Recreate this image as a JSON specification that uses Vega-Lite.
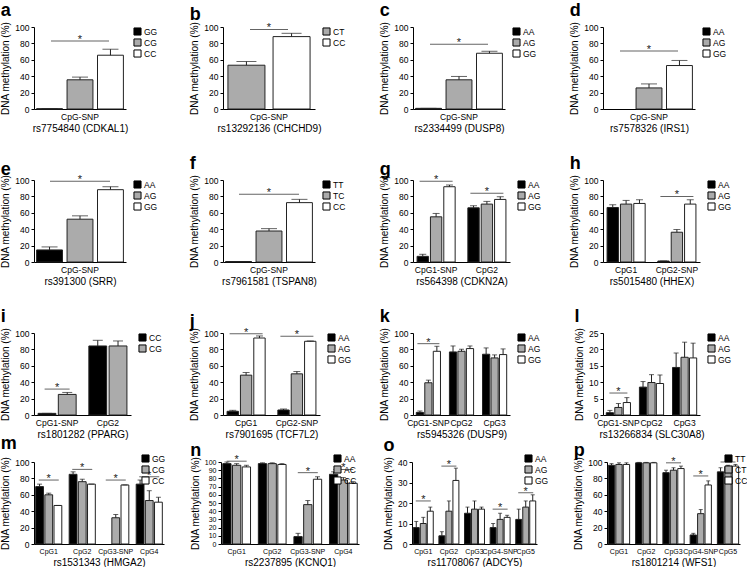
{
"$schema":"https://vega.github.io/schema/vega-lite/v6.json",
"padding":{"left":0,"top":1,"right":0,"bottom":0},
"datasets":{"d":[
{"p":"a","s":"CpG-SNP","g":"GG","v":0.3,"hi":0.3},{"p":"a","s":"CpG-SNP","g":"CG","v":35.6,"hi":38.9},{"p":"a","s":"CpG-SNP","g":"CC","v":65.6,"hi":72.9},{"p":"a","s":"CpG-SNP","sig":83},
{"p":"b","s":"CpG-SNP","g":"CT","v":53.4,"hi":57.9},{"p":"b","s":"CpG-SNP","g":"CC","v":88.3,"hi":92.3},{"p":"b","s":"CpG-SNP","sig":97},
{"p":"c","s":"CpG-SNP","g":"AA","v":0.8,"hi":0.8},{"p":"c","s":"CpG-SNP","g":"AG","v":35.6,"hi":39.7},{"p":"c","s":"CpG-SNP","g":"GG","v":68,"hi":70.4},{"p":"c","s":"CpG-SNP","sig":79},
{"p":"d","s":"CpG-SNP","g":"AG","v":25.7,"hi":30.6},{"p":"d","s":"CpG-SNP","g":"GG","v":53,"hi":59.2},{"p":"d","s":"CpG-SNP","sig":70.6},
{"p":"e","s":"CpG-SNP","g":"AA","v":14.7,"hi":18.4},{"p":"e","s":"CpG-SNP","g":"AG","v":52.2,"hi":56.3},{"p":"e","s":"CpG-SNP","g":"GG","v":88.2,"hi":91.8},{"p":"e","s":"CpG-SNP","sig":98.5},
{"p":"f","s":"CpG-SNP","g":"TT","v":0.6,"hi":0.6},{"p":"f","s":"CpG-SNP","g":"TC","v":37.8,"hi":40.7},{"p":"f","s":"CpG-SNP","g":"CC","v":72.4,"hi":76.4},{"p":"f","s":"CpG-SNP","sig":82.5},
{"p":"g","s":"CpG1-SNP","g":"AA","v":6.9,"hi":9.4},{"p":"g","s":"CpG1-SNP","g":"AG","v":55.1,"hi":59.2},{"p":"g","s":"CpG1-SNP","g":"GG","v":91.8,"hi":93.9},{"p":"g","s":"CpG1-SNP","sig":98.4},
{"p":"g","s":"CpG2","g":"AA","v":66.1,"hi":68.6},{"p":"g","s":"CpG2","g":"AG","v":70.6,"hi":73.9},{"p":"g","s":"CpG2","g":"GG","v":76.3,"hi":79.6},{"p":"g","s":"CpG2","sig":83.7},
{"p":"h","s":"CpG1","g":"AA","v":66.5,"hi":69.8},{"p":"h","s":"CpG1","g":"AG","v":70.6,"hi":75.1},{"p":"h","s":"CpG1","g":"GG","v":71.4,"hi":75.9},
{"p":"h","s":"CpG2-SNP","g":"AA","v":1.2,"hi":1.2},{"p":"h","s":"CpG2-SNP","g":"AG","v":36.3,"hi":39.6},{"p":"h","s":"CpG2-SNP","g":"GG","v":70.6,"hi":75.9},{"p":"h","s":"CpG2-SNP","sig":80},
{"p":"i","s":"CpG1-SNP","g":"CC","v":2,"hi":2},{"p":"i","s":"CpG1-SNP","g":"CG","v":25.1,"hi":27.5},{"p":"i","s":"CpG1-SNP","sig":31.6},
{"p":"i","s":"CpG2","g":"CC","v":84.2,"hi":91.1},{"p":"i","s":"CpG2","g":"CG","v":84.2,"hi":90.3},
{"p":"j","s":"CpG1","g":"AA","v":4.5,"hi":5.7},{"p":"j","s":"CpG1","g":"AG","v":48.6,"hi":51.8},{"p":"j","s":"CpG1","g":"GG","v":93.9,"hi":96.4},{"p":"j","s":"CpG1","sig":99.2},
{"p":"j","s":"CpG2-SNP","g":"AA","v":6.1,"hi":7.3},{"p":"j","s":"CpG2-SNP","g":"AG","v":50.2,"hi":53},{"p":"j","s":"CpG2-SNP","g":"GG","v":89.9,"hi":90.3},{"p":"j","s":"CpG2-SNP","sig":96},
{"p":"k","s":"CpG1-SNP","g":"AA","v":3.2,"hi":4.9},{"p":"k","s":"CpG1-SNP","g":"AG","v":39.3,"hi":42.5},{"p":"k","s":"CpG1-SNP","g":"GG","v":77.7,"hi":83.8},{"p":"k","s":"CpG1-SNP","sig":87},
{"p":"k","s":"CpG2","g":"AA","v":76.9,"hi":84.2},{"p":"k","s":"CpG2","g":"AG","v":77.7,"hi":80.2},{"p":"k","s":"CpG2","g":"GG","v":81,"hi":84.2},
{"p":"k","s":"CpG3","g":"AA","v":74.1,"hi":81.8},{"p":"k","s":"CpG3","g":"AG","v":69.6,"hi":73.3},{"p":"k","s":"CpG3","g":"GG","v":73.7,"hi":80.6},
{"p":"l","s":"CpG1-SNP","g":"AA","v":0.7,"hi":1.4},{"p":"l","s":"CpG1-SNP","g":"AG","v":2.3,"hi":3.5},{"p":"l","s":"CpG1-SNP","g":"GG","v":3.8,"hi":5.3},{"p":"l","s":"CpG1-SNP","sig":6.7},
{"p":"l","s":"CpG2","g":"AA","v":8.5,"hi":10.2},{"p":"l","s":"CpG2","g":"AG","v":9.9,"hi":12.3},{"p":"l","s":"CpG2","g":"GG","v":9.6,"hi":12.2},
{"p":"l","s":"CpG3","g":"AA","v":14.5,"hi":18.9},{"p":"l","s":"CpG3","g":"AG","v":17.6,"hi":22.2},{"p":"l","s":"CpG3","g":"GG","v":17.4,"hi":21.9},
{"p":"m","s":"CpG1","g":"GG","v":70,"hi":73},{"p":"m","s":"CpG1","g":"CG","v":60,"hi":62},{"p":"m","s":"CpG1","g":"CC","v":47,"hi":47},{"p":"m","s":"CpG1","sig":78},
{"p":"m","s":"CpG2","g":"GG","v":85,"hi":88},{"p":"m","s":"CpG2","g":"CG","v":76,"hi":79},{"p":"m","s":"CpG2","g":"CC","v":73,"hi":73},{"p":"m","s":"CpG2","sig":91},
{"p":"m","s":"CpG3-SNP","g":"CG","v":32,"hi":36},{"p":"m","s":"CpG3-SNP","g":"CC","v":72,"hi":72},{"p":"m","s":"CpG3-SNP","sig":78},
{"p":"m","s":"CpG4","g":"GG","v":73,"hi":78},{"p":"m","s":"CpG4","g":"CG","v":53,"hi":65},{"p":"m","s":"CpG4","g":"CC","v":51,"hi":57},{"p":"m","s":"CpG4","sig":82},
{"p":"n","s":"CpG1","g":"AA","v":98,"hi":100},{"p":"n","s":"CpG1","g":"AC","v":96,"hi":98},{"p":"n","s":"CpG1","g":"CC","v":94,"hi":96},{"p":"n","s":"CpG1","sig":101},
{"p":"n","s":"CpG2","g":"AA","v":98,"hi":99},{"p":"n","s":"CpG2","g":"AC","v":98,"hi":99},{"p":"n","s":"CpG2","g":"CC","v":97,"hi":98},
{"p":"n","s":"CpG3-SNP","g":"AA","v":9,"hi":13},{"p":"n","s":"CpG3-SNP","g":"AC","v":48,"hi":53},{"p":"n","s":"CpG3-SNP","g":"CC","v":79,"hi":82},{"p":"n","s":"CpG3-SNP","sig":87},
{"p":"n","s":"CpG4","g":"AA","v":85,"hi":88},{"p":"n","s":"CpG4","g":"AC","v":78,"hi":81},{"p":"n","s":"CpG4","g":"CC","v":74,"hi":76},{"p":"n","s":"CpG4","sig":91},
{"p":"o","s":"CpG1","g":"AA","v":8,"hi":11},{"p":"o","s":"CpG1","g":"AG","v":10,"hi":13},{"p":"o","s":"CpG1","g":"GG","v":16,"hi":18},{"p":"o","s":"CpG1","sig":21},
{"p":"o","s":"CpG2","g":"AA","v":4,"hi":6},{"p":"o","s":"CpG2","g":"AG","v":16,"hi":21},{"p":"o","s":"CpG2","g":"GG","v":31,"hi":37},{"p":"o","s":"CpG2","sig":38},
{"p":"o","s":"CpG3","g":"AA","v":15,"hi":18},{"p":"o","s":"CpG3","g":"AG","v":17,"hi":21},{"p":"o","s":"CpG3","g":"GG","v":17,"hi":18},
{"p":"o","s":"CpG4-SNP","g":"AA","v":8,"hi":10},{"p":"o","s":"CpG4-SNP","g":"AG","v":12,"hi":15},{"p":"o","s":"CpG4-SNP","g":"GG","v":13,"hi":14},{"p":"o","s":"CpG4-SNP","sig":17},
{"p":"o","s":"CpG5","g":"AA","v":12,"hi":17},{"p":"o","s":"CpG5","g":"AG","v":18,"hi":21},{"p":"o","s":"CpG5","g":"GG","v":21,"hi":24},{"p":"o","s":"CpG5","sig":25},
{"p":"p","s":"CpG1","g":"TT","v":96,"hi":98},{"p":"p","s":"CpG1","g":"CT","v":97,"hi":99},{"p":"p","s":"CpG1","g":"CC","v":97,"hi":99},
{"p":"p","s":"CpG2","g":"TT","v":99,"hi":99.5},{"p":"p","s":"CpG2","g":"CT","v":99,"hi":99.5},{"p":"p","s":"CpG2","g":"CC","v":99,"hi":99.5},
{"p":"p","s":"CpG3","g":"TT","v":87,"hi":90},{"p":"p","s":"CpG3","g":"CT","v":90,"hi":93},{"p":"p","s":"CpG3","g":"CC","v":92,"hi":95},{"p":"p","s":"CpG3","sig":99},
{"p":"p","s":"CpG4-SNP","g":"TT","v":11,"hi":13},{"p":"p","s":"CpG4-SNP","g":"CT","v":37,"hi":42},{"p":"p","s":"CpG4-SNP","g":"CC","v":72,"hi":77},{"p":"p","s":"CpG4-SNP","sig":83},
{"p":"p","s":"CpG5","g":"TT","v":88,"hi":93},{"p":"p","s":"CpG5","g":"CT","v":94,"hi":96},{"p":"p","s":"CpG5","g":"CC","v":95,"hi":97},{"p":"p","s":"CpG5","sig":100}
]},
"vconcat":[
{"columns":4,"spacing":{"row":20,"column":27},
"resolve":{"scale":{"color":"independent","xOffset":"independent","x":"independent","y":"independent"},"legend":{"color":"independent"}},
"concat":[
{"title":{"text":"a","offset":1.5},"width":92,"height":82,"data":{"name":"d"},"transform":[{"filter":"datum.p=='a'"}],
"encoding":{"x":{"field":"s","type":"nominal","title":"rs7754840 (CDKAL1)","scale":{"paddingInner":0,"paddingOuter":0.03}}},
"layer":[
{"transform":[{"filter":"isValid(datum.v)"}],"mark":"bar","encoding":{"xOffset":{"field":"g","type":"nominal","scale":{"domain":["GG","CG","CC"],"paddingInner":0.15}},"y":{"field":"v","type":"quantitative","title":"DNA methylation (%)","scale":{"domain":[0,100],"nice":false},"axis":{"values":[0,20,40,60,80,100]}},"color":{"field":"g","type":"nominal","scale":{"domain":["GG","CG","CC"],"range":["#000000","#ababab","#ffffff"]},"legend":{"title":null}}}},
{"transform":[{"filter":"isValid(datum.v)"}],"mark":"rule","encoding":{"xOffset":{"field":"g","type":"nominal","scale":{"domain":["GG","CG","CC"],"paddingInner":0.15}},"y":{"field":"v","type":"quantitative","title":"DNA methylation (%)","scale":{"domain":[0,100],"nice":false},"axis":{"values":[0,20,40,60,80,100]}},"y2":{"field":"hi"}}},
{"transform":[{"filter":"isValid(datum.v)"}],"mark":{"type":"tick","size":16},"encoding":{"xOffset":{"field":"g","type":"nominal","scale":{"domain":["GG","CG","CC"],"paddingInner":0.15}},"y":{"field":"hi","type":"quantitative","title":"DNA methylation (%)","scale":{"domain":[0,100],"nice":false},"axis":{"values":[0,20,40,60,80,100]}}}},
{"transform":[{"filter":"isValid(datum.sig)"}],"mark":{"type":"tick","size":58},"encoding":{"y":{"field":"sig","type":"quantitative","title":"DNA methylation (%)","scale":{"domain":[0,100],"nice":false},"axis":{"values":[0,20,40,60,80,100]}}}},
{"transform":[{"filter":"isValid(datum.sig)"}],"mark":{"type":"text","text":"*","baseline":"bottom","dy":4,"fontSize":11},"encoding":{"y":{"field":"sig","type":"quantitative","title":"DNA methylation (%)","scale":{"domain":[0,100],"nice":false},"axis":{"values":[0,20,40,60,80,100]}}}}
]},
{"title":{"text":"b","offset":-3},"width":92,"height":82,"data":{"name":"d"},"transform":[{"filter":"datum.p=='b'"}],
"encoding":{"x":{"field":"s","type":"nominal","title":"rs13292136 (CHCHD9)","scale":{"paddingInner":0,"paddingOuter":0.06}}},
"layer":[
{"transform":[{"filter":"isValid(datum.v)"}],"mark":"bar","encoding":{"xOffset":{"field":"g","type":"nominal","scale":{"domain":["CT","CC"],"paddingInner":0.18}},"y":{"field":"v","type":"quantitative","title":"DNA methylation (%)","scale":{"domain":[0,100],"nice":false},"axis":{"values":[0,20,40,60,80,100]}},"color":{"field":"g","type":"nominal","scale":{"domain":["CT","CC"],"range":["#ababab","#ffffff"]},"legend":{"title":null}}}},
{"transform":[{"filter":"isValid(datum.v)"}],"mark":"rule","encoding":{"xOffset":{"field":"g","type":"nominal","scale":{"domain":["CT","CC"],"paddingInner":0.18}},"y":{"field":"v","type":"quantitative","title":"DNA methylation (%)","scale":{"domain":[0,100],"nice":false},"axis":{"values":[0,20,40,60,80,100]}},"y2":{"field":"hi"}}},
{"transform":[{"filter":"isValid(datum.v)"}],"mark":{"type":"tick","size":20},"encoding":{"xOffset":{"field":"g","type":"nominal","scale":{"domain":["CT","CC"],"paddingInner":0.18}},"y":{"field":"hi","type":"quantitative","title":"DNA methylation (%)","scale":{"domain":[0,100],"nice":false},"axis":{"values":[0,20,40,60,80,100]}}}},
{"transform":[{"filter":"isValid(datum.sig)"}],"mark":{"type":"tick","size":38},"encoding":{"y":{"field":"sig","type":"quantitative","title":"DNA methylation (%)","scale":{"domain":[0,100],"nice":false},"axis":{"values":[0,20,40,60,80,100]}}}},
{"transform":[{"filter":"isValid(datum.sig)"}],"mark":{"type":"text","text":"*","baseline":"bottom","dy":4,"fontSize":11},"encoding":{"y":{"field":"sig","type":"quantitative","title":"DNA methylation (%)","scale":{"domain":[0,100],"nice":false},"axis":{"values":[0,20,40,60,80,100]}}}}
]},
{"title":{"text":"c","offset":1.5},"width":92,"height":82,"data":{"name":"d"},"transform":[{"filter":"datum.p=='c'"}],
"encoding":{"x":{"field":"s","type":"nominal","title":"rs2334499 (DUSP8)","scale":{"paddingInner":0,"paddingOuter":0.03}}},
"layer":[
{"transform":[{"filter":"isValid(datum.v)"}],"mark":"bar","encoding":{"xOffset":{"field":"g","type":"nominal","scale":{"domain":["AA","AG","GG"],"paddingInner":0.15}},"y":{"field":"v","type":"quantitative","title":"DNA methylation (%)","scale":{"domain":[0,100],"nice":false},"axis":{"values":[0,20,40,60,80,100]}},"color":{"field":"g","type":"nominal","scale":{"domain":["AA","AG","GG"],"range":["#000000","#ababab","#ffffff"]},"legend":{"title":null}}}},
{"transform":[{"filter":"isValid(datum.v)"}],"mark":"rule","encoding":{"xOffset":{"field":"g","type":"nominal","scale":{"domain":["AA","AG","GG"],"paddingInner":0.15}},"y":{"field":"v","type":"quantitative","title":"DNA methylation (%)","scale":{"domain":[0,100],"nice":false},"axis":{"values":[0,20,40,60,80,100]}},"y2":{"field":"hi"}}},
{"transform":[{"filter":"isValid(datum.v)"}],"mark":{"type":"tick","size":16},"encoding":{"xOffset":{"field":"g","type":"nominal","scale":{"domain":["AA","AG","GG"],"paddingInner":0.15}},"y":{"field":"hi","type":"quantitative","title":"DNA methylation (%)","scale":{"domain":[0,100],"nice":false},"axis":{"values":[0,20,40,60,80,100]}}}},
{"transform":[{"filter":"isValid(datum.sig)"}],"mark":{"type":"tick","size":58},"encoding":{"y":{"field":"sig","type":"quantitative","title":"DNA methylation (%)","scale":{"domain":[0,100],"nice":false},"axis":{"values":[0,20,40,60,80,100]}}}},
{"transform":[{"filter":"isValid(datum.sig)"}],"mark":{"type":"text","text":"*","baseline":"bottom","dy":4,"fontSize":11},"encoding":{"y":{"field":"sig","type":"quantitative","title":"DNA methylation (%)","scale":{"domain":[0,100],"nice":false},"axis":{"values":[0,20,40,60,80,100]}}}}
]},
{"title":{"text":"d","offset":1.5},"width":92,"height":82,"data":{"name":"d"},"transform":[{"filter":"datum.p=='d'"}],
"encoding":{"x":{"field":"s","type":"nominal","title":"rs7578326 (IRS1)","scale":{"paddingInner":0,"paddingOuter":0.03}}},
"layer":[
{"transform":[{"filter":"isValid(datum.v)"}],"mark":"bar","encoding":{"xOffset":{"field":"g","type":"nominal","scale":{"domain":["AA","AG","GG"],"paddingInner":0.15}},"y":{"field":"v","type":"quantitative","title":"DNA methylation (%)","scale":{"domain":[0,100],"nice":false},"axis":{"values":[0,20,40,60,80,100]}},"color":{"field":"g","type":"nominal","scale":{"domain":["AA","AG","GG"],"range":["#000000","#ababab","#ffffff"]},"legend":{"title":null}}}},
{"transform":[{"filter":"isValid(datum.v)"}],"mark":"rule","encoding":{"xOffset":{"field":"g","type":"nominal","scale":{"domain":["AA","AG","GG"],"paddingInner":0.15}},"y":{"field":"v","type":"quantitative","title":"DNA methylation (%)","scale":{"domain":[0,100],"nice":false},"axis":{"values":[0,20,40,60,80,100]}},"y2":{"field":"hi"}}},
{"transform":[{"filter":"isValid(datum.v)"}],"mark":{"type":"tick","size":16},"encoding":{"xOffset":{"field":"g","type":"nominal","scale":{"domain":["AA","AG","GG"],"paddingInner":0.15}},"y":{"field":"hi","type":"quantitative","title":"DNA methylation (%)","scale":{"domain":[0,100],"nice":false},"axis":{"values":[0,20,40,60,80,100]}}}},
{"transform":[{"filter":"isValid(datum.sig)"}],"mark":{"type":"tick","size":58},"encoding":{"y":{"field":"sig","type":"quantitative","title":"DNA methylation (%)","scale":{"domain":[0,100],"nice":false},"axis":{"values":[0,20,40,60,80,100]}}}},
{"transform":[{"filter":"isValid(datum.sig)"}],"mark":{"type":"text","text":"*","baseline":"bottom","dy":4,"fontSize":11},"encoding":{"y":{"field":"sig","type":"quantitative","title":"DNA methylation (%)","scale":{"domain":[0,100],"nice":false},"axis":{"values":[0,20,40,60,80,100]}}}}
]},
{"title":{"text":"e","offset":-4.3},"width":92,"height":82,"data":{"name":"d"},"transform":[{"filter":"datum.p=='e'"}],
"encoding":{"x":{"field":"s","type":"nominal","title":"rs391300 (SRR)","scale":{"paddingInner":0,"paddingOuter":0.03}}},
"layer":[
{"transform":[{"filter":"isValid(datum.v)"}],"mark":"bar","encoding":{"xOffset":{"field":"g","type":"nominal","scale":{"domain":["AA","AG","GG"],"paddingInner":0.15}},"y":{"field":"v","type":"quantitative","title":"DNA methylation (%)","scale":{"domain":[0,100],"nice":false},"axis":{"values":[0,20,40,60,80,100]}},"color":{"field":"g","type":"nominal","scale":{"domain":["AA","AG","GG"],"range":["#000000","#ababab","#ffffff"]},"legend":{"title":null}}}},
{"transform":[{"filter":"isValid(datum.v)"}],"mark":"rule","encoding":{"xOffset":{"field":"g","type":"nominal","scale":{"domain":["AA","AG","GG"],"paddingInner":0.15}},"y":{"field":"v","type":"quantitative","title":"DNA methylation (%)","scale":{"domain":[0,100],"nice":false},"axis":{"values":[0,20,40,60,80,100]}},"y2":{"field":"hi"}}},
{"transform":[{"filter":"isValid(datum.v)"}],"mark":{"type":"tick","size":16},"encoding":{"xOffset":{"field":"g","type":"nominal","scale":{"domain":["AA","AG","GG"],"paddingInner":0.15}},"y":{"field":"hi","type":"quantitative","title":"DNA methylation (%)","scale":{"domain":[0,100],"nice":false},"axis":{"values":[0,20,40,60,80,100]}}}},
{"transform":[{"filter":"isValid(datum.sig)"}],"mark":{"type":"tick","size":60},"encoding":{"y":{"field":"sig","type":"quantitative","title":"DNA methylation (%)","scale":{"domain":[0,100],"nice":false},"axis":{"values":[0,20,40,60,80,100]}}}},
{"transform":[{"filter":"isValid(datum.sig)"}],"mark":{"type":"text","text":"*","baseline":"bottom","dy":4,"fontSize":11},"encoding":{"y":{"field":"sig","type":"quantitative","title":"DNA methylation (%)","scale":{"domain":[0,100],"nice":false},"axis":{"values":[0,20,40,60,80,100]}}}}
]},
{"title":{"text":"f","offset":1.5},"width":92,"height":82,"data":{"name":"d"},"transform":[{"filter":"datum.p=='f'"}],
"encoding":{"x":{"field":"s","type":"nominal","title":"rs7961581 (TSPAN8)","scale":{"paddingInner":0,"paddingOuter":0.03}}},
"layer":[
{"transform":[{"filter":"isValid(datum.v)"}],"mark":"bar","encoding":{"xOffset":{"field":"g","type":"nominal","scale":{"domain":["TT","TC","CC"],"paddingInner":0.15}},"y":{"field":"v","type":"quantitative","title":"DNA methylation (%)","scale":{"domain":[0,100],"nice":false},"axis":{"values":[0,20,40,60,80,100]}},"color":{"field":"g","type":"nominal","scale":{"domain":["TT","TC","CC"],"range":["#000000","#ababab","#ffffff"]},"legend":{"title":null}}}},
{"transform":[{"filter":"isValid(datum.v)"}],"mark":"rule","encoding":{"xOffset":{"field":"g","type":"nominal","scale":{"domain":["TT","TC","CC"],"paddingInner":0.15}},"y":{"field":"v","type":"quantitative","title":"DNA methylation (%)","scale":{"domain":[0,100],"nice":false},"axis":{"values":[0,20,40,60,80,100]}},"y2":{"field":"hi"}}},
{"transform":[{"filter":"isValid(datum.v)"}],"mark":{"type":"tick","size":16},"encoding":{"xOffset":{"field":"g","type":"nominal","scale":{"domain":["TT","TC","CC"],"paddingInner":0.15}},"y":{"field":"hi","type":"quantitative","title":"DNA methylation (%)","scale":{"domain":[0,100],"nice":false},"axis":{"values":[0,20,40,60,80,100]}}}},
{"transform":[{"filter":"isValid(datum.sig)"}],"mark":{"type":"tick","size":60},"encoding":{"y":{"field":"sig","type":"quantitative","title":"DNA methylation (%)","scale":{"domain":[0,100],"nice":false},"axis":{"values":[0,20,40,60,80,100]}}}},
{"transform":[{"filter":"isValid(datum.sig)"}],"mark":{"type":"text","text":"*","baseline":"bottom","dy":4,"fontSize":11},"encoding":{"y":{"field":"sig","type":"quantitative","title":"DNA methylation (%)","scale":{"domain":[0,100],"nice":false},"axis":{"values":[0,20,40,60,80,100]}}}}
]},
{"title":{"text":"g","offset":-4.2},"width":97,"height":82,"data":{"name":"d"},"transform":[{"filter":"datum.p=='g'"}],
"encoding":{"x":{"field":"s","type":"nominal","title":"rs564398 (CDKN2A)","scale":{"paddingInner":0.25,"paddingOuter":0.08}}},
"layer":[
{"transform":[{"filter":"isValid(datum.v)"}],"mark":"bar","encoding":{"xOffset":{"field":"g","type":"nominal","scale":{"domain":["AA","AG","GG"],"paddingInner":0.15}},"y":{"field":"v","type":"quantitative","title":"DNA methylation (%)","scale":{"domain":[0,100],"nice":false},"axis":{"values":[0,20,40,60,80,100]}},"color":{"field":"g","type":"nominal","scale":{"domain":["AA","AG","GG"],"range":["#000000","#ababab","#ffffff"]},"legend":{"title":null}}}},
{"transform":[{"filter":"isValid(datum.v)"}],"mark":"rule","encoding":{"xOffset":{"field":"g","type":"nominal","scale":{"domain":["AA","AG","GG"],"paddingInner":0.15}},"y":{"field":"v","type":"quantitative","title":"DNA methylation (%)","scale":{"domain":[0,100],"nice":false},"axis":{"values":[0,20,40,60,80,100]}},"y2":{"field":"hi"}}},
{"transform":[{"filter":"isValid(datum.v)"}],"mark":{"type":"tick","size":7},"encoding":{"xOffset":{"field":"g","type":"nominal","scale":{"domain":["AA","AG","GG"],"paddingInner":0.15}},"y":{"field":"hi","type":"quantitative","title":"DNA methylation (%)","scale":{"domain":[0,100],"nice":false},"axis":{"values":[0,20,40,60,80,100]}}}},
{"transform":[{"filter":"isValid(datum.sig)"}],"mark":{"type":"tick","size":33},"encoding":{"y":{"field":"sig","type":"quantitative","title":"DNA methylation (%)","scale":{"domain":[0,100],"nice":false},"axis":{"values":[0,20,40,60,80,100]}}}},
{"transform":[{"filter":"isValid(datum.sig)"}],"mark":{"type":"text","text":"*","baseline":"bottom","dy":4,"fontSize":11},"encoding":{"y":{"field":"sig","type":"quantitative","title":"DNA methylation (%)","scale":{"domain":[0,100],"nice":false},"axis":{"values":[0,20,40,60,80,100]}}}}
]},
{"title":{"text":"h","offset":1.5},"width":97,"height":82,"data":{"name":"d"},"transform":[{"filter":"datum.p=='h'"}],
"encoding":{"x":{"field":"s","type":"nominal","title":"rs5015480 (HHEX)","scale":{"paddingInner":0.25,"paddingOuter":0.08}}},
"layer":[
{"transform":[{"filter":"isValid(datum.v)"}],"mark":"bar","encoding":{"xOffset":{"field":"g","type":"nominal","scale":{"domain":["AA","AG","GG"],"paddingInner":0.15}},"y":{"field":"v","type":"quantitative","title":"DNA methylation (%)","scale":{"domain":[0,100],"nice":false},"axis":{"values":[0,20,40,60,80,100]}},"color":{"field":"g","type":"nominal","scale":{"domain":["AA","AG","GG"],"range":["#000000","#ababab","#ffffff"]},"legend":{"title":null}}}},
{"transform":[{"filter":"isValid(datum.v)"}],"mark":"rule","encoding":{"xOffset":{"field":"g","type":"nominal","scale":{"domain":["AA","AG","GG"],"paddingInner":0.15}},"y":{"field":"v","type":"quantitative","title":"DNA methylation (%)","scale":{"domain":[0,100],"nice":false},"axis":{"values":[0,20,40,60,80,100]}},"y2":{"field":"hi"}}},
{"transform":[{"filter":"isValid(datum.v)"}],"mark":{"type":"tick","size":7},"encoding":{"xOffset":{"field":"g","type":"nominal","scale":{"domain":["AA","AG","GG"],"paddingInner":0.15}},"y":{"field":"hi","type":"quantitative","title":"DNA methylation (%)","scale":{"domain":[0,100],"nice":false},"axis":{"values":[0,20,40,60,80,100]}}}},
{"transform":[{"filter":"isValid(datum.sig)"}],"mark":{"type":"tick","size":33},"encoding":{"y":{"field":"sig","type":"quantitative","title":"DNA methylation (%)","scale":{"domain":[0,100],"nice":false},"axis":{"values":[0,20,40,60,80,100]}}}},
{"transform":[{"filter":"isValid(datum.sig)"}],"mark":{"type":"text","text":"*","baseline":"bottom","dy":4,"fontSize":11},"encoding":{"y":{"field":"sig","type":"quantitative","title":"DNA methylation (%)","scale":{"domain":[0,100],"nice":false},"axis":{"values":[0,20,40,60,80,100]}}}}
]},
{"title":{"text":"i","offset":1.5},"width":97,"height":82,"data":{"name":"d"},"transform":[{"filter":"datum.p=='i'"}],
"encoding":{"x":{"field":"s","type":"nominal","title":"rs1801282 (PPARG)","scale":{"paddingInner":0.25,"paddingOuter":0.08}}},
"layer":[
{"transform":[{"filter":"isValid(datum.v)"}],"mark":"bar","encoding":{"xOffset":{"field":"g","type":"nominal","scale":{"domain":["CC","CG"],"paddingInner":0.12}},"y":{"field":"v","type":"quantitative","title":"DNA methylation (%)","scale":{"domain":[0,100],"nice":false},"axis":{"values":[0,20,40,60,80,100]}},"color":{"field":"g","type":"nominal","scale":{"domain":["CC","CG"],"range":["#000000","#ababab"]},"legend":{"title":null}}}},
{"transform":[{"filter":"isValid(datum.v)"}],"mark":"rule","encoding":{"xOffset":{"field":"g","type":"nominal","scale":{"domain":["CC","CG"],"paddingInner":0.12}},"y":{"field":"v","type":"quantitative","title":"DNA methylation (%)","scale":{"domain":[0,100],"nice":false},"axis":{"values":[0,20,40,60,80,100]}},"y2":{"field":"hi"}}},
{"transform":[{"filter":"isValid(datum.v)"}],"mark":{"type":"tick","size":10},"encoding":{"xOffset":{"field":"g","type":"nominal","scale":{"domain":["CC","CG"],"paddingInner":0.12}},"y":{"field":"hi","type":"quantitative","title":"DNA methylation (%)","scale":{"domain":[0,100],"nice":false},"axis":{"values":[0,20,40,60,80,100]}}}},
{"transform":[{"filter":"isValid(datum.sig)"}],"mark":{"type":"tick","size":25},"encoding":{"y":{"field":"sig","type":"quantitative","title":"DNA methylation (%)","scale":{"domain":[0,100],"nice":false},"axis":{"values":[0,20,40,60,80,100]}}}},
{"transform":[{"filter":"isValid(datum.sig)"}],"mark":{"type":"text","text":"*","baseline":"bottom","dy":4,"fontSize":11},"encoding":{"y":{"field":"sig","type":"quantitative","title":"DNA methylation (%)","scale":{"domain":[0,100],"nice":false},"axis":{"values":[0,20,40,60,80,100]}}}}
]},
{"title":{"text":"j","offset":-4.8},"width":97,"height":82,"data":{"name":"d"},"transform":[{"filter":"datum.p=='j'"}],
"encoding":{"x":{"field":"s","type":"nominal","title":"rs7901695 (TCF7L2)","scale":{"paddingInner":0.25,"paddingOuter":0.08}}},
"layer":[
{"transform":[{"filter":"isValid(datum.v)"}],"mark":"bar","encoding":{"xOffset":{"field":"g","type":"nominal","scale":{"domain":["AA","AG","GG"],"paddingInner":0.15}},"y":{"field":"v","type":"quantitative","title":"DNA methylation (%)","scale":{"domain":[0,100],"nice":false},"axis":{"values":[0,20,40,60,80,100]}},"color":{"field":"g","type":"nominal","scale":{"domain":["AA","AG","GG"],"range":["#000000","#ababab","#ffffff"]},"legend":{"title":null}}}},
{"transform":[{"filter":"isValid(datum.v)"}],"mark":"rule","encoding":{"xOffset":{"field":"g","type":"nominal","scale":{"domain":["AA","AG","GG"],"paddingInner":0.15}},"y":{"field":"v","type":"quantitative","title":"DNA methylation (%)","scale":{"domain":[0,100],"nice":false},"axis":{"values":[0,20,40,60,80,100]}},"y2":{"field":"hi"}}},
{"transform":[{"filter":"isValid(datum.v)"}],"mark":{"type":"tick","size":7},"encoding":{"xOffset":{"field":"g","type":"nominal","scale":{"domain":["AA","AG","GG"],"paddingInner":0.15}},"y":{"field":"hi","type":"quantitative","title":"DNA methylation (%)","scale":{"domain":[0,100],"nice":false},"axis":{"values":[0,20,40,60,80,100]}}}},
{"transform":[{"filter":"isValid(datum.sig)"}],"mark":{"type":"tick","size":33},"encoding":{"y":{"field":"sig","type":"quantitative","title":"DNA methylation (%)","scale":{"domain":[0,100],"nice":false},"axis":{"values":[0,20,40,60,80,100]}}}},
{"transform":[{"filter":"isValid(datum.sig)"}],"mark":{"type":"text","text":"*","baseline":"bottom","dy":4,"fontSize":11},"encoding":{"y":{"field":"sig","type":"quantitative","title":"DNA methylation (%)","scale":{"domain":[0,100],"nice":false},"axis":{"values":[0,20,40,60,80,100]}}}}
]},
{"title":{"text":"k","offset":1.5},"width":97,"height":82,"data":{"name":"d"},"transform":[{"filter":"datum.p=='k'"}],
"encoding":{"x":{"field":"s","type":"nominal","title":"rs5945326 (DUSP9)","scale":{"paddingInner":0.27,"paddingOuter":0.1}}},
"layer":[
{"transform":[{"filter":"isValid(datum.v)"}],"mark":"bar","encoding":{"xOffset":{"field":"g","type":"nominal","scale":{"domain":["AA","AG","GG"],"paddingInner":0.15}},"y":{"field":"v","type":"quantitative","title":"DNA methylation (%)","scale":{"domain":[0,100],"nice":false},"axis":{"values":[0,20,40,60,80,100]}},"color":{"field":"g","type":"nominal","scale":{"domain":["AA","AG","GG"],"range":["#000000","#ababab","#ffffff"]},"legend":{"title":null}}}},
{"transform":[{"filter":"isValid(datum.v)"}],"mark":"rule","encoding":{"xOffset":{"field":"g","type":"nominal","scale":{"domain":["AA","AG","GG"],"paddingInner":0.15}},"y":{"field":"v","type":"quantitative","title":"DNA methylation (%)","scale":{"domain":[0,100],"nice":false},"axis":{"values":[0,20,40,60,80,100]}},"y2":{"field":"hi"}}},
{"transform":[{"filter":"isValid(datum.v)"}],"mark":{"type":"tick","size":5},"encoding":{"xOffset":{"field":"g","type":"nominal","scale":{"domain":["AA","AG","GG"],"paddingInner":0.15}},"y":{"field":"hi","type":"quantitative","title":"DNA methylation (%)","scale":{"domain":[0,100],"nice":false},"axis":{"values":[0,20,40,60,80,100]}}}},
{"transform":[{"filter":"isValid(datum.sig)"}],"mark":{"type":"tick","size":22},"encoding":{"y":{"field":"sig","type":"quantitative","title":"DNA methylation (%)","scale":{"domain":[0,100],"nice":false},"axis":{"values":[0,20,40,60,80,100]}}}},
{"transform":[{"filter":"isValid(datum.sig)"}],"mark":{"type":"text","text":"*","baseline":"bottom","dy":4,"fontSize":11},"encoding":{"y":{"field":"sig","type":"quantitative","title":"DNA methylation (%)","scale":{"domain":[0,100],"nice":false},"axis":{"values":[0,20,40,60,80,100]}}}}
]},
{"title":{"text":"l","offset":1.5},"width":97,"height":82,"data":{"name":"d"},"transform":[{"filter":"datum.p=='l'"}],
"encoding":{"x":{"field":"s","type":"nominal","title":"rs13266834 (SLC30A8)","scale":{"paddingInner":0.27,"paddingOuter":0.1}}},
"layer":[
{"transform":[{"filter":"isValid(datum.v)"}],"mark":"bar","encoding":{"xOffset":{"field":"g","type":"nominal","scale":{"domain":["AA","AG","GG"],"paddingInner":0.15}},"y":{"field":"v","type":"quantitative","title":"DNA methylation (%)","scale":{"domain":[0,25],"nice":false},"axis":{"values":[0,5,10,15,20,25]}},"color":{"field":"g","type":"nominal","scale":{"domain":["AA","AG","GG"],"range":["#000000","#ababab","#ffffff"]},"legend":{"title":null}}}},
{"transform":[{"filter":"isValid(datum.v)"}],"mark":"rule","encoding":{"xOffset":{"field":"g","type":"nominal","scale":{"domain":["AA","AG","GG"],"paddingInner":0.15}},"y":{"field":"v","type":"quantitative","title":"DNA methylation (%)","scale":{"domain":[0,25],"nice":false},"axis":{"values":[0,5,10,15,20,25]}},"y2":{"field":"hi"}}},
{"transform":[{"filter":"isValid(datum.v)"}],"mark":{"type":"tick","size":5},"encoding":{"xOffset":{"field":"g","type":"nominal","scale":{"domain":["AA","AG","GG"],"paddingInner":0.15}},"y":{"field":"hi","type":"quantitative","title":"DNA methylation (%)","scale":{"domain":[0,25],"nice":false},"axis":{"values":[0,5,10,15,20,25]}}}},
{"transform":[{"filter":"isValid(datum.sig)"}],"mark":{"type":"tick","size":18},"encoding":{"y":{"field":"sig","type":"quantitative","title":"DNA methylation (%)","scale":{"domain":[0,25],"nice":false},"axis":{"values":[0,5,10,15,20,25]}}}},
{"transform":[{"filter":"isValid(datum.sig)"}],"mark":{"type":"text","text":"*","baseline":"bottom","dy":4,"fontSize":11},"encoding":{"y":{"field":"sig","type":"quantitative","title":"DNA methylation (%)","scale":{"domain":[0,25],"nice":false},"axis":{"values":[0,5,10,15,20,25]}}}}
]}
]},
{"columns":4,"spacing":{"column":24},
"resolve":{"scale":{"color":"independent","xOffset":"independent","x":"independent","y":"independent"},"legend":{"color":"independent"}},
"concat":[
{"title":{"text":"m","offset":1.5},"width":130,"height":82,"data":{"name":"d"},"transform":[{"filter":"datum.p=='m'"}],
"encoding":{"x":{"field":"s","type":"nominal","title":"rs1531343 (HMGA2)","axis":{"labelFontSize":7},"scale":{"paddingInner":0.22,"paddingOuter":0.05}}},
"layer":[
{"transform":[{"filter":"isValid(datum.v)"}],"mark":"bar","encoding":{"xOffset":{"field":"g","type":"nominal","scale":{"domain":["GG","CG","CC"],"paddingInner":0.15}},"y":{"field":"v","type":"quantitative","title":"DNA methylation (%)","scale":{"domain":[0,100],"nice":false},"axis":{"values":[0,20,40,60,80,100]}},"color":{"field":"g","type":"nominal","scale":{"domain":["GG","CG","CC"],"range":["#000000","#ababab","#ffffff"]},"legend":{"title":null,"orient":"none","legendX":107,"legendY":-8}}}},
{"transform":[{"filter":"isValid(datum.v)"}],"mark":"rule","encoding":{"xOffset":{"field":"g","type":"nominal","scale":{"domain":["GG","CG","CC"],"paddingInner":0.15}},"y":{"field":"v","type":"quantitative","title":"DNA methylation (%)","scale":{"domain":[0,100],"nice":false},"axis":{"values":[0,20,40,60,80,100]}},"y2":{"field":"hi"}}},
{"transform":[{"filter":"isValid(datum.v)"}],"mark":{"type":"tick","size":5},"encoding":{"xOffset":{"field":"g","type":"nominal","scale":{"domain":["GG","CG","CC"],"paddingInner":0.15}},"y":{"field":"hi","type":"quantitative","title":"DNA methylation (%)","scale":{"domain":[0,100],"nice":false},"axis":{"values":[0,20,40,60,80,100]}}}},
{"transform":[{"filter":"isValid(datum.sig)"}],"mark":{"type":"tick","size":20},"encoding":{"y":{"field":"sig","type":"quantitative","title":"DNA methylation (%)","scale":{"domain":[0,100],"nice":false},"axis":{"values":[0,20,40,60,80,100]}}}},
{"transform":[{"filter":"isValid(datum.sig)"}],"mark":{"type":"text","text":"*","baseline":"bottom","dy":4,"fontSize":11},"encoding":{"y":{"field":"sig","type":"quantitative","title":"DNA methylation (%)","scale":{"domain":[0,100],"nice":false},"axis":{"values":[0,20,40,60,80,100]}}}}
]},
{"title":{"text":"n","offset":-6.3},"width":138,"height":82,"data":{"name":"d"},"transform":[{"filter":"datum.p=='n'"}],
"encoding":{"x":{"field":"s","type":"nominal","title":"rs2237895 (KCNQ1)","axis":{"labelFontSize":7},"scale":{"paddingInner":0.22,"paddingOuter":0.05}}},
"layer":[
{"transform":[{"filter":"isValid(datum.v)"}],"mark":"bar","encoding":{"xOffset":{"field":"g","type":"nominal","scale":{"domain":["AA","AC","CC"],"paddingInner":0.15}},"y":{"field":"v","type":"quantitative","title":"DNA methylation (%)","scale":{"domain":[0,100],"nice":false},"axis":{"values":[0,10,20,30,40,50,60,70,80,90,100],"labelFontSize":7}},"color":{"field":"g","type":"nominal","scale":{"domain":["AA","AC","CC"],"range":["#000000","#ababab","#ffffff"]},"legend":{"title":null,"orient":"none","legendX":112,"legendY":-8}}}},
{"transform":[{"filter":"isValid(datum.v)"}],"mark":"rule","encoding":{"xOffset":{"field":"g","type":"nominal","scale":{"domain":["AA","AC","CC"],"paddingInner":0.15}},"y":{"field":"v","type":"quantitative","title":"DNA methylation (%)","scale":{"domain":[0,100],"nice":false},"axis":{"values":[0,10,20,30,40,50,60,70,80,90,100],"labelFontSize":7}},"y2":{"field":"hi"}}},
{"transform":[{"filter":"isValid(datum.v)"}],"mark":{"type":"tick","size":5},"encoding":{"xOffset":{"field":"g","type":"nominal","scale":{"domain":["AA","AC","CC"],"paddingInner":0.15}},"y":{"field":"hi","type":"quantitative","title":"DNA methylation (%)","scale":{"domain":[0,100],"nice":false},"axis":{"values":[0,10,20,30,40,50,60,70,80,90,100],"labelFontSize":7}}}},
{"transform":[{"filter":"isValid(datum.sig)"}],"mark":{"type":"tick","size":20},"encoding":{"y":{"field":"sig","type":"quantitative","title":"DNA methylation (%)","scale":{"domain":[0,100],"nice":false},"axis":{"values":[0,10,20,30,40,50,60,70,80,90,100],"labelFontSize":7}}}},
{"transform":[{"filter":"isValid(datum.sig)"}],"mark":{"type":"text","text":"*","baseline":"bottom","dy":4,"fontSize":11},"encoding":{"y":{"field":"sig","type":"quantitative","title":"DNA methylation (%)","scale":{"domain":[0,100],"nice":false},"axis":{"values":[0,10,20,30,40,50,60,70,80,90,100],"labelFontSize":7}}}}
]},
{"title":{"text":"o","offset":-1.4},"width":125,"height":82,"data":{"name":"d"},"transform":[{"filter":"datum.p=='o'"}],
"encoding":{"x":{"field":"s","type":"nominal","title":"rs11708067 (ADCY5)","axis":{"labelFontSize":7},"scale":{"paddingInner":0.22,"paddingOuter":0.05}}},
"layer":[
{"transform":[{"filter":"isValid(datum.v)"}],"mark":"bar","encoding":{"xOffset":{"field":"g","type":"nominal","scale":{"domain":["AA","AG","GG"],"paddingInner":0.15}},"y":{"field":"v","type":"quantitative","title":"DNA methylation (%)","scale":{"domain":[0,40],"nice":false},"axis":{"values":[0,10,20,30,40]}},"color":{"field":"g","type":"nominal","scale":{"domain":["AA","AG","GG"],"range":["#000000","#ababab","#ffffff"]},"legend":{"title":null,"orient":"none","legendX":112,"legendY":-8}}}},
{"transform":[{"filter":"isValid(datum.v)"}],"mark":"rule","encoding":{"xOffset":{"field":"g","type":"nominal","scale":{"domain":["AA","AG","GG"],"paddingInner":0.15}},"y":{"field":"v","type":"quantitative","title":"DNA methylation (%)","scale":{"domain":[0,40],"nice":false},"axis":{"values":[0,10,20,30,40]}},"y2":{"field":"hi"}}},
{"transform":[{"filter":"isValid(datum.v)"}],"mark":{"type":"tick","size":4},"encoding":{"xOffset":{"field":"g","type":"nominal","scale":{"domain":["AA","AG","GG"],"paddingInner":0.15}},"y":{"field":"hi","type":"quantitative","title":"DNA methylation (%)","scale":{"domain":[0,40],"nice":false},"axis":{"values":[0,10,20,30,40]}}}},
{"transform":[{"filter":"isValid(datum.sig)"}],"mark":{"type":"tick","size":15},"encoding":{"y":{"field":"sig","type":"quantitative","title":"DNA methylation (%)","scale":{"domain":[0,40],"nice":false},"axis":{"values":[0,10,20,30,40]}}}},
{"transform":[{"filter":"isValid(datum.sig)"}],"mark":{"type":"text","text":"*","baseline":"bottom","dy":4,"fontSize":11},"encoding":{"y":{"field":"sig","type":"quantitative","title":"DNA methylation (%)","scale":{"domain":[0,40],"nice":false},"axis":{"values":[0,10,20,30,40]}}}}
]},
{"title":{"text":"p","offset":-5.5},"width":133,"height":82,"data":{"name":"d"},"transform":[{"filter":"datum.p=='p'"}],
"encoding":{"x":{"field":"s","type":"nominal","title":"rs1801214 (WFS1)","axis":{"labelFontSize":7},"scale":{"paddingInner":0.22,"paddingOuter":0.05}}},
"layer":[
{"transform":[{"filter":"isValid(datum.v)"}],"mark":"bar","encoding":{"xOffset":{"field":"g","type":"nominal","scale":{"domain":["TT","CT","CC"],"paddingInner":0.15}},"y":{"field":"v","type":"quantitative","title":"DNA methylation (%)","scale":{"domain":[0,100],"nice":false},"axis":{"values":[0,20,40,60,80,100]}},"color":{"field":"g","type":"nominal","scale":{"domain":["TT","CT","CC"],"range":["#000000","#ababab","#ffffff"]},"legend":{"title":null,"orient":"none","legendX":117,"legendY":-8}}}},
{"transform":[{"filter":"isValid(datum.v)"}],"mark":"rule","encoding":{"xOffset":{"field":"g","type":"nominal","scale":{"domain":["TT","CT","CC"],"paddingInner":0.15}},"y":{"field":"v","type":"quantitative","title":"DNA methylation (%)","scale":{"domain":[0,100],"nice":false},"axis":{"values":[0,20,40,60,80,100]}},"y2":{"field":"hi"}}},
{"transform":[{"filter":"isValid(datum.v)"}],"mark":{"type":"tick","size":4},"encoding":{"xOffset":{"field":"g","type":"nominal","scale":{"domain":["TT","CT","CC"],"paddingInner":0.15}},"y":{"field":"hi","type":"quantitative","title":"DNA methylation (%)","scale":{"domain":[0,100],"nice":false},"axis":{"values":[0,20,40,60,80,100]}}}},
{"transform":[{"filter":"isValid(datum.sig)"}],"mark":{"type":"tick","size":15},"encoding":{"y":{"field":"sig","type":"quantitative","title":"DNA methylation (%)","scale":{"domain":[0,100],"nice":false},"axis":{"values":[0,20,40,60,80,100]}}}},
{"transform":[{"filter":"isValid(datum.sig)"}],"mark":{"type":"text","text":"*","baseline":"bottom","dy":4,"fontSize":11},"encoding":{"y":{"field":"sig","type":"quantitative","title":"DNA methylation (%)","scale":{"domain":[0,100],"nice":false},"axis":{"values":[0,20,40,60,80,100]}}}}
]}
]}
],
"spacing":-6,
"resolve":{"scale":{"color":"independent","xOffset":"independent","x":"independent","y":"independent"},"legend":{"color":"independent"}},
"config":{
"view":{"stroke":null},
"font":"Liberation Sans",
"axis":{"grid":false,"domainColor":"#000","tickColor":"#000","labelColor":"#000","titleColor":"#000","labelFontSize":8.5,"titleFontSize":10,"titleFontWeight":"normal","labelFont":"Liberation Sans","titleFont":"Liberation Sans","labelOverlap":false},
"axisY":{"tickSize":3,"labelPadding":2,"titlePadding":4},
"axisX":{"ticks":false,"labelPadding":3,"titlePadding":3,"labelAngle":0},
"legend":{"symbolType":"square","symbolSize":50,"symbolStrokeColor":"#000","symbolStrokeWidth":1,"labelFontSize":8.5,"labelOffset":2,"rowPadding":-2,"offset":7,"padding":0,"labelFont":"Liberation Sans"},
"title":{"anchor":"start","frame":"bounds","fontSize":18,"fontWeight":"bold","color":"#000","font":"Liberation Sans"},
"bar":{"stroke":"#222","strokeWidth":1},
"tick":{"thickness":1,"color":"#222"},
"rule":{"color":"#222"},
"text":{"color":"#222"}
}
}
